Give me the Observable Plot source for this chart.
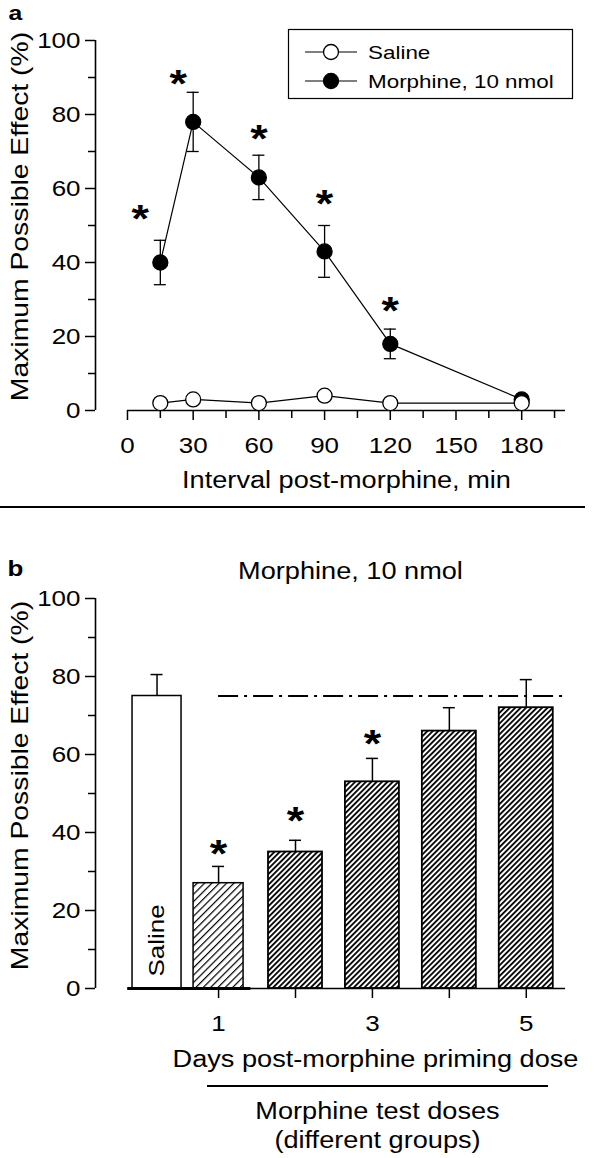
<!DOCTYPE html>
<html><head><meta charset="utf-8">
<script src="https://cdn.jsdelivr.net/npm/d3@7"></script>
<script src="https://cdn.jsdelivr.net/npm/@observablehq/plot@0.6"></script>
<style>
body{margin:0;background:#fff;}
#root{position:relative;width:600px;height:1158px;overflow:hidden;background:#fff;font-family:"Liberation Sans",Arial,sans-serif;}
#root > svg{position:absolute;left:0;}
.sep{position:absolute;background:#000;}
</style></head><body>
<svg width="0" height="0" style="position:absolute">
<defs>
<pattern id="hatchDense" patternUnits="userSpaceOnUse" width="3.8" height="3.8" patternTransform="rotate(45)">
<rect x="0" y="0" width="3.8" height="3.8" fill="#fff"/>
<rect x="0" y="0" width="1.8" height="3.8" fill="#000"/>
</pattern>
<pattern id="hatchLight" patternUnits="userSpaceOnUse" width="5.2" height="5.2" patternTransform="rotate(45)">
<rect x="0" y="0" width="5.2" height="5.2" fill="#fff"/>
<rect x="0" y="0" width="1.2" height="5.2" fill="#000"/>
</pattern>
</defs>
</svg>
<div id="root"></div>
<script>
// ---------- Panel a data ----------
const timesMin = [15, 30, 60, 90, 120, 180];
const salineMPE = [2, 3, 2, 4, 2, 2];
const morphineMPE = [40, 78, 63, 43, 18, 3];
const morphineSEM = [6, 8, 6, 7, 4, 0];
const starTimesA = [15, 30, 60, 90, 120];
const starLevelsA = [54, 90.5, 75.7, 58, 29];
const xTicksA = [0, 30, 60, 90, 120, 150, 180];
const xMinorTicksA = [15, 45, 75, 105, 135, 165, 195];
const yTicks = [0, 20, 40, 60, 80, 100];
const yMinorTicks = [10, 30, 50, 70, 90];
const legendLabels = ["Saline", "Morphine, 10 nmol"];
const yLabel = "Maximum Possible Effect (%)";
const xLabelA = "Interval post-morphine, min";

// ---------- Panel b data ----------
const days = [1, 2, 3, 4, 5];
const dayMPE = [27, 35, 53, 66, 72];
const daySEM = [4.3, 3, 6, 6, 7.2];
const salineBarMPE = 75;
const salineBarSEM = 5.5;
const starDays = [1, 2, 3];
const starLevelsB = [36.7, 45, 64.9];
const xTicksB = [1, 2, 3, 4, 5];
const xTickLabelsB = [1, 3, 5];
const titleB = "Morphine, 10 nmol";
const xLabelB = "Days post-morphine priming dose";
const groupLabel1 = "Morphine test doses";
const groupLabel2 = "(different groups)";

const root = document.getElementById("root");
const baseStyle = {fontFamily: "'Liberation Sans', Arial, sans-serif", fontSize: "22px", color: "#000", background: "transparent", overflow: "visible"};
const intFmt = d3.format("d");

// ---------- Panel a ----------
const morphData = timesMin.map((t, i) => ({t, v: morphineMPE[i], e: morphineSEM[i]}));
const salData = timesMin.map((t, i) => ({t, v: salineMPE[i]}));
const starsA = starTimesA.map((t, i) => ({t, v: starLevelsA[i]}));
const errA = morphData.filter(d => d.e > 0);
const xDomA = [-14.6, 200];

const plotA = Plot.plot({
  width: 600, height: 505,
  marginLeft: 95, marginRight: 35, marginTop: 40, marginBottom: 95,
  style: baseStyle,
  x: {domain: xDomA, label: null},
  y: {domain: [0, 100], label: null},
  marks: [
    Plot.ruleX([xDomA[0]], {y1: 0, y2: 100, strokeWidth: 1.6}),
    Plot.ruleY([0], {x1: 0, x2: xDomA[1], strokeWidth: 1.6}),
    Plot.axisY({ticks: yTicks, tickSize: 10, tickPadding: 5, tickFormat: intFmt, strokeWidth: 1.5, fontSize: 22, label: null}),
    Plot.axisY({ticks: yMinorTicks, tickSize: 7, tickFormat: () => "", strokeWidth: 1.5, label: null}),
    Plot.axisX({ticks: xMinorTicksA, tickSize: 8, tickFormat: () => "", strokeWidth: 1.5, label: null}),
    Plot.axisX({ticks: xTicksA, tickSize: 10, tickPadding: 17, tickFormat: intFmt, strokeWidth: 1.5, fontSize: 22, label: null}),
    Plot.ruleX(errA, {x: "t", y1: d => d.v - d.e, y2: d => d.v + d.e, strokeWidth: 1.3}),
    Plot.ruleY(errA, {y: d => d.v + d.e, x1: "t", x2: "t", insetLeft: -6, insetRight: -6, strokeWidth: 1.3}),
    Plot.ruleY(errA, {y: d => d.v - d.e, x1: "t", x2: "t", insetLeft: -6, insetRight: -6, strokeWidth: 1.3}),
    Plot.line(salData, {x: "t", y: "v", stroke: "#000", strokeWidth: 1.2}),
    Plot.line(morphData, {x: "t", y: "v", stroke: "#000", strokeWidth: 1.2}),
    Plot.dot(morphData, {x: "t", y: "v", r: 7.5, fill: "#000", stroke: "#000", strokeWidth: 1.3}),
    Plot.dot(salData, {x: "t", y: "v", r: 7.5, fill: "#fff", stroke: "#000", strokeWidth: 1.3}),
    Plot.text(starsA.slice(0, 1), {x: "t", y: "v", text: () => "*", dx: -20, dy: 9, fontSize: 38, fontWeight: "bold", lineAnchor: "middle"}),
    Plot.text(starsA.slice(1, 2), {x: "t", y: "v", text: () => "*", dx: -15, dy: 9, fontSize: 38, fontWeight: "bold", lineAnchor: "middle"}),
    Plot.text(starsA.slice(2), {x: "t", y: "v", text: () => "*", dy: 9, fontSize: 38, fontWeight: "bold", lineAnchor: "middle"}),
    Plot.text([yLabel], {frameAnchor: "left", rotate: -90, dx: -75, dy: -9, fontSize: 24, lineAnchor: "middle", textAnchor: "middle"}),
    Plot.text([xLabelA], {frameAnchor: "bottom", dx: 16, dy: 77, fontSize: 23, lineAnchor: "bottom", textAnchor: "middle"}),
    Plot.text(["a"], {frameAnchor: "top-left", dx: -87, dy: -21, fontSize: 21, fontWeight: "bold", lineAnchor: "bottom", textAnchor: "start"})
  ]
});
plotA.style.top = "0px";
root.appendChild(plotA);

// legend (overlay)
const leg = d3.select(root).append("svg")
  .attr("width", 600).attr("height", 110)
  .style("top", "0px");
leg.append("rect").attr("x", 288.5).attr("y", 29.5).attr("width", 284).attr("height", 69)
  .attr("fill", "#fff").attr("stroke", "#000").attr("stroke-width", 1.2);
legendLabels.forEach((lab, i) => {
  const cy = 52 + i * 29;
  leg.append("line").attr("x1", 305).attr("x2", 357).attr("y1", cy).attr("y2", cy)
    .attr("stroke", "#000").attr("stroke-width", 1.2);
  leg.append("circle").attr("cx", 331).attr("cy", cy).attr("r", 7.5)
    .attr("fill", i === 0 ? "#fff" : "#000").attr("stroke", "#000").attr("stroke-width", 1.3);
  leg.append("text").attr("x", 368).attr("y", cy + 7).attr("font-size", 19)
    .attr("font-family", "'Liberation Sans', Arial, sans-serif").text(lab);
});

// separator a
const sep1 = document.createElement("div");
sep1.className = "sep";
Object.assign(sep1.style, {left: "0px", top: "506px", width: "585px", height: "2px"});
root.appendChild(sep1);

// ---------- Panel b ----------
const dayData = days.map((d, i) => ({p: d, v: dayMPE[i], e: daySEM[i]}));
const salinePos = 0.2;
const salBar = [{p: salinePos, v: salineBarMPE, e: salineBarSEM}];
const allBars = salBar.concat(dayData);
const starsB = starDays.map((d, i) => ({p: d, v: starLevelsB[i]}));
const xDomB = [-0.6, 5.51];
const axisStartB = -0.18;

const plotB = Plot.plot({
  width: 600, height: 608,
  marginLeft: 95, marginRight: 35, marginTop: 48, marginBottom: 170,
  style: baseStyle,
  x: {domain: xDomB, label: null},
  y: {domain: [0, 100], label: null},
  marks: [
    Plot.ruleX([xDomB[0]], {y1: 0, y2: 100, strokeWidth: 1.6}),
    Plot.ruleX(allBars, {x: "p", y1: "v", y2: d => d.v + d.e, strokeWidth: 1.5}),
    Plot.ruleY(allBars, {y: d => d.v + d.e, x1: "p", x2: "p", insetLeft: -6, insetRight: -6, strokeWidth: 1.5}),
    Plot.ruleY([salineBarMPE], {x1: days[0], x2: xDomB[1], strokeWidth: 1.8, strokeDasharray: "20,6,3,6"}),
    Plot.rect(salBar, {x1: "p", x2: "p", y1: 0, y2: "v", insetLeft: -24.5, insetRight: -24.5, fill: "#fff", stroke: "#000", strokeWidth: 1.5}),
    Plot.rect(dayData.slice(0, 1), {x1: "p", x2: "p", y1: 0, y2: "v", insetLeft: -25, insetRight: -25, fill: "url(#hatchLight)", stroke: "#000", strokeWidth: 1.5}),
    Plot.rect(dayData.slice(1), {x1: "p", x2: "p", y1: 0, y2: "v", insetLeft: -27, insetRight: -27, fill: "url(#hatchDense)", stroke: "#000", strokeWidth: 1.8}),
    Plot.ruleY([0], {x1: axisStartB, x2: xDomB[1], strokeWidth: 1.6}),
    Plot.ruleY([0], {x1: axisStartB, x2: 1.42, strokeWidth: 3}),
    Plot.axisY({ticks: yTicks, tickSize: 10, tickPadding: 5, tickFormat: intFmt, strokeWidth: 1.5, fontSize: 22, label: null}),
    Plot.axisY({ticks: yMinorTicks, tickSize: 7, tickFormat: () => "", strokeWidth: 1.5, label: null}),
    Plot.axisX({ticks: xTicksB, tickSize: 10, tickFormat: () => "", strokeWidth: 1.5, label: null}),
    Plot.axisX({ticks: xTickLabelsB, tickSize: 0, tickPadding: 27, tickFormat: intFmt, fontSize: 22, label: null}),
    Plot.text(starsB, {x: "p", y: "v", text: () => "*", dy: 9, fontSize: 38, fontWeight: "bold", lineAnchor: "middle"}),
    Plot.text(["Saline"], {x: () => salinePos, frameAnchor: "bottom", dy: -48, rotate: -90, fontSize: 22, lineAnchor: "middle", textAnchor: "middle"}),
    Plot.text([yLabel], {frameAnchor: "left", rotate: -90, dx: -75, dy: -8, fontSize: 24, lineAnchor: "middle", textAnchor: "middle"}),
    Plot.text([titleB], {frameAnchor: "top", dx: 20, dy: -20, fontSize: 23, lineAnchor: "bottom", textAnchor: "middle"}),
    Plot.text([xLabelB], {frameAnchor: "bottom", dx: 45, dy: 78, fontSize: 23, lineAnchor: "bottom", textAnchor: "middle"}),
    Plot.text([groupLabel1], {frameAnchor: "bottom", dx: 47, dy: 130, fontSize: 23, lineAnchor: "bottom", textAnchor: "middle"}),
    Plot.text([groupLabel2], {frameAnchor: "bottom", dx: 47, dy: 159, fontSize: 23, lineAnchor: "bottom", textAnchor: "middle"}),
    Plot.text(["b"], {frameAnchor: "top-left", dx: -88, dy: -23, fontSize: 22, fontWeight: "bold", lineAnchor: "bottom", textAnchor: "start"})
  ]
});
plotB.style.top = "550px";
root.appendChild(plotB);

const sep2 = document.createElement("div");
sep2.className = "sep";
Object.assign(sep2.style, {left: "207px", top: "1085px", width: "341px", height: "2px"});
root.appendChild(sep2);

// Wider glyphs, as in the reference typeface
function widen(el, f) {
  const L = el.getComputedTextLength();
  if (L > 0) {
    el.setAttribute("textLength", (L * f).toFixed(2));
    el.setAttribute("lengthAdjust", "spacingAndGlyphs");
  }
}
root.querySelectorAll("svg text").forEach(t => {
  const spans = t.querySelectorAll("tspan");
  if (spans.length) spans.forEach(s => widen(s, 1.18));
  else widen(t, 1.18);
});
</script></body></html>
